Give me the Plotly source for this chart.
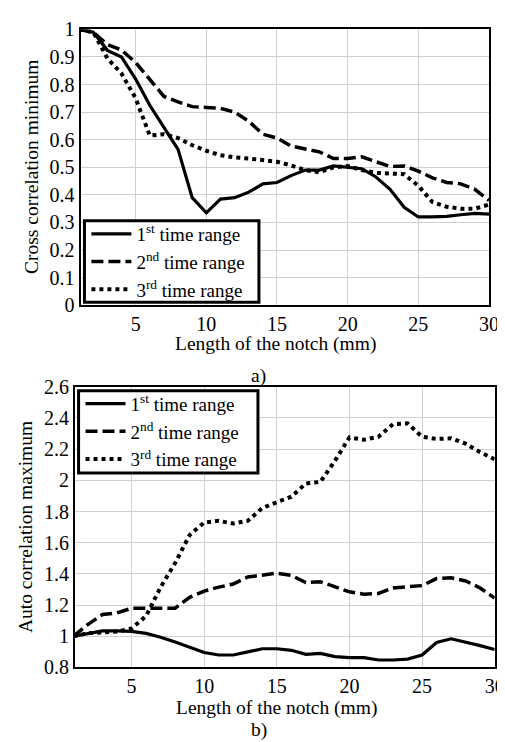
import plotly.graph_objects as go

# ---------------- data ----------------
x_mm = list(range(1, 31))

cross_1 = [1.00, 0.99, 0.924, 0.90, 0.82, 0.725, 0.645, 0.565, 0.39, 0.335,
           0.385, 0.39, 0.41, 0.44, 0.445, 0.47, 0.49, 0.49, 0.505, 0.50,
           0.495, 0.465, 0.42, 0.355, 0.32, 0.32, 0.322, 0.328, 0.333, 0.33]
cross_2 = [1.00, 0.99, 0.945, 0.925, 0.88, 0.82, 0.757, 0.737, 0.72, 0.717,
           0.714, 0.70, 0.667, 0.62, 0.606, 0.577, 0.567, 0.556, 0.532, 0.532,
           0.538, 0.52, 0.503, 0.505, 0.486, 0.462, 0.445, 0.44, 0.42, 0.38]
cross_3 = [1.00, 0.99, 0.895, 0.84, 0.75, 0.615, 0.62, 0.606, 0.58, 0.56,
           0.544, 0.536, 0.532, 0.526, 0.52, 0.507, 0.49, 0.482, 0.50, 0.505,
           0.49, 0.48, 0.477, 0.475, 0.433, 0.374, 0.357, 0.35, 0.35, 0.365]

auto_1 = [1.00, 1.02, 1.035, 1.035, 1.031, 1.019, 0.994, 0.963, 0.928, 0.896,
          0.88, 0.88, 0.90, 0.92, 0.92, 0.91, 0.884, 0.89, 0.87, 0.863,
          0.863, 0.848, 0.848, 0.854, 0.88, 0.96, 0.984, 0.963, 0.94, 0.915]
auto_2 = [1.00, 1.077, 1.14, 1.15, 1.18, 1.18, 1.175, 1.18, 1.25, 1.29,
          1.315, 1.335, 1.38, 1.395, 1.405, 1.39, 1.345, 1.35, 1.315, 1.285,
          1.27, 1.275, 1.31, 1.315, 1.325, 1.37, 1.375, 1.355, 1.31, 1.245]
auto_3 = [1.00, 1.02, 1.025, 1.03, 1.05, 1.13, 1.315, 1.47, 1.65, 1.73,
          1.74, 1.723, 1.74, 1.823, 1.86, 1.895, 1.98, 1.99, 2.125, 2.275,
          2.26, 2.28, 2.36, 2.365, 2.28, 2.265, 2.27, 2.235, 2.18, 2.135]

series_names = ["1<sup>st</sup> time range", "2<sup>nd</sup> time range",
                "3<sup>rd</sup> time range"]

x_tickvals = [5, 10, 15, 20, 25, 30]
x_ticktext = ["5", "10", "15", "20", "25", "30"]
top_tickvals = [0, 0.1, 0.2, 0.3, 0.4, 0.5, 0.6, 0.7, 0.8, 0.9, 1.0]
top_ticktext = ["0", "0.1", "0.2", "0.3", "0.4", "0.5", "0.6", "0.7", "0.8", "0.9", "1"]
bot_tickvals = [0.8, 1.0, 1.2, 1.4, 1.6, 1.8, 2.0, 2.2, 2.4, 2.6]
bot_ticktext = ["0.8", "1", "1.2", "1.4", "1.6", "1.8", "2", "2.2", "2.4", "2.6"]

x_title = "Length of the notch (mm)"
top_ytitle = "Cross correlation minimum"
bot_ytitle = "Auto correlation maximum"

# ---------------- figure ----------------
W, H = 505, 742
FONT = "Liberation Serif"

def px_x(p):
    return p / W

def px_y(p):
    return 1 - p / H

styles = [
    dict(color="black", width=3.2, dash="solid"),
    dict(color="black", width=3.5, dash="12px,5px"),
    dict(color="black", width=4, dash="4px,4px"),
]

fig = go.Figure()
for ys, st, nm in zip([cross_1, cross_2, cross_3], styles, series_names):
    fig.add_trace(go.Scatter(x=x_mm, y=ys, mode="lines", line=st, name=nm,
                             xaxis="x", yaxis="y", legend="legend"))
for ys, st, nm in zip([auto_1, auto_2, auto_3], styles, series_names):
    fig.add_trace(go.Scatter(x=x_mm, y=ys, mode="lines", line=st, name=nm,
                             xaxis="x2", yaxis="y2", legend="legend2"))

tickfont = dict(family=FONT, size=20, color="black")
axis_common = dict(
    showgrid=True, gridcolor="#cfcfcf", gridwidth=1,
    showline=True, linecolor="black", linewidth=2, mirror=True,
    zeroline=False, ticks="", tickfont=tickfont,
)

legend_font = dict(family=FONT, size=19, color="black")

fig.update_layout(
    width=W, height=H,
    margin=dict(l=0, r=0, t=0, b=0),
    paper_bgcolor="white", plot_bgcolor="white",
    font=dict(family=FONT, size=19, color="black"),
    xaxis=dict(domain=[px_x(74), px_x(490.7)], anchor="y", range=[1.1, 30],
               tickmode="array", tickvals=x_tickvals, ticktext=x_ticktext,
               **axis_common),
    yaxis=dict(domain=[px_y(295), px_y(10.7)], anchor="x", range=[0, 1],
               tickmode="array", tickvals=top_tickvals, ticktext=top_ticktext,
               **axis_common),
    xaxis2=dict(domain=[px_x(68.3), px_x(496.5)], anchor="y2", range=[1.1, 30],
                tickmode="array", tickvals=x_tickvals, ticktext=x_ticktext,
                **axis_common),
    yaxis2=dict(domain=[px_y(668.3), px_y(379)], anchor="x2", range=[0.8, 2.6],
                tickmode="array", tickvals=bot_tickvals, ticktext=bot_ticktext,
                **axis_common),
    legend=dict(x=px_x(80), y=px_y(202), xanchor="left", yanchor="top",
                bgcolor="rgba(0,0,0,0)", borderwidth=0,
                font=legend_font, tracegroupgap=0, itemwidth=40),
    legend2=dict(x=px_x(74), y=px_y(377), xanchor="left", yanchor="top",
                 bgcolor="rgba(0,0,0,0)", borderwidth=0,
                 font=legend_font, tracegroupgap=0, itemwidth=40),
    showlegend=True,
)

# legend frames
for (x0, y0, x1, y1) in [(78, 208, 256, 292), (72, 383, 255, 468)]:
    fig.add_shape(type="rect", xref="paper", yref="paper",
                  x0=px_x(x0), x1=px_x(x1), y0=px_y(y1), y1=px_y(y0),
                  line=dict(color="black", width=3), fillcolor="white", layer="above")

annots = [
    dict(text=x_title, x=px_x(273), y=px_y(335)),
    dict(text="a)", x=px_x(256), y=px_y(368)),
    dict(text=x_title, x=px_x(274), y=px_y(710)),
    dict(text="b)", x=px_x(256), y=px_y(733)),
    dict(text=top_ytitle, x=px_x(24), y=px_y(153), textangle=-90),
    dict(text=bot_ytitle, x=px_x(18), y=px_y(524), textangle=-90),
]
for a in annots:
    fig.add_annotation(xref="paper", yref="paper", xanchor="center", yanchor="middle",
                       showarrow=False, font=dict(family=FONT, size=19.5, color="black"),
                       **a)

fig.write_html("out.html")
